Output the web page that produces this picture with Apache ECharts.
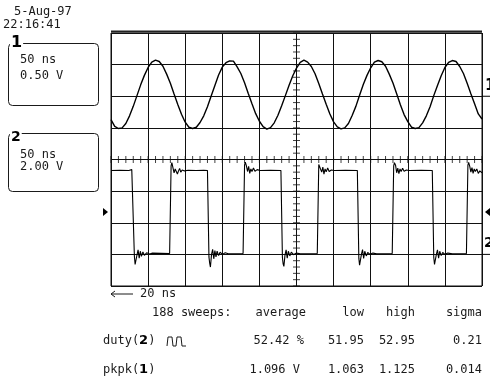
<!DOCTYPE html>
<html>
<head>
<meta charset="utf-8">
<script src="https://cdn.jsdelivr.net/npm/echarts@6/dist/echarts.min.js"></script>
<style>
  html, body { margin: 0; background: #fff; }
  #scope { width: 490px; height: 388px; }
</style>
</head>
<body>
<div id="scope"></div>
<script>
// screen is 10 x 8 divisions, time in ns (50 ns/div), values in divisions
const timeMax = 500;
const divsHalf = 4;

// channel 1 (sine), one sample every 5 ns in divisions
const ch1StepNs = 5;
const ch1Divs = [
  1.26, 1.05, 0.98, 1.00, 1.14, 1.38, 1.68, 2.02, 2.36, 2.66, 2.91, 3.08, 3.14, 3.10, 2.95, 2.70, 2.41, 2.07, 1.74, 1.43,
  1.18, 1.02, 0.98, 1.02, 1.17, 1.38, 1.67, 2.01, 2.34, 2.67, 2.92, 3.06, 3.12, 3.11, 2.93, 2.72, 2.43, 2.09, 1.76, 1.45,
  1.21, 1.04, 0.96, 1.01, 1.16, 1.40, 1.70, 2.02, 2.35, 2.65, 2.89, 3.07, 3.14, 3.08, 2.94, 2.71, 2.40, 2.07, 1.75, 1.44,
  1.19, 1.03, 0.97, 1.00, 1.14, 1.39, 1.68, 2.03, 2.37, 2.66, 2.90, 3.08, 3.13, 3.09, 2.95, 2.70, 2.42, 2.08, 1.73, 1.42,
  1.20, 1.02, 0.98, 1.01, 1.16, 1.38, 1.67, 2.02, 2.34, 2.65, 2.91, 3.07, 3.13, 3.10, 2.94, 2.72, 2.41, 2.08, 1.76, 1.44,
  1.28
];

// channel 2 (pulse train) as [ns, divisions]
const ch2Points = [
  [0, -0.35], [12, -0.34], [24, -0.35], [28, -0.32], [29.5, -0.28], [30.5, -0.38],
  [31.5, -3.05], [32.5, -3.32], [33.5, -3.36], [35, -3.02], [36.5, -2.86], [38, -3.12], [39.5, -2.9], [41, -3.06],
  [43, -2.92], [45, -3.03], [48, -2.95], [52, -2.99], [56, -2.96], [79, -2.97],
  [80, -2.96], [81, -0.2], [82, -0.1], [83.5, -0.16], [85, -0.42], [86.5, -0.3], [88, -0.24], [89.5, -0.46],
  [91, -0.36], [92.5, -0.28], [94, -0.4], [96, -0.33], [99, -0.36], [104, -0.34], [115, -0.35], [125, -0.34], [130, -0.35],
  [131, -0.38], [132, -3.08], [133, -3.28], [134, -3.4], [135.5, -3.0], [137, -2.84], [138.5, -3.14], [140, -2.88],
  [141.5, -3.08], [143, -2.9], [145, -3.04], [147, -2.93], [150, -3.0], [154, -2.95], [158, -2.98], [178, -2.97],
  [179, -2.96], [180, -0.18], [181, -0.08], [182.5, -0.2], [184, -0.38], [185.5, -0.22], [187, -0.44], [188.5, -0.3],
  [190, -0.38], [192, -0.27], [194, -0.37], [197, -0.32], [201, -0.35], [215, -0.34], [229, -0.35],
  [230, -0.37], [231, -3.1], [232, -3.3], [233, -3.38], [234.5, -3.02], [236, -2.86], [237.5, -3.12], [239, -2.9],
  [241, -3.05], [243, -2.93], [246, -3.01], [250, -2.96], [255, -2.98], [278, -2.97],
  [279, -2.96], [280, -0.16], [281, -0.1], [282.5, -0.22], [284, -0.4], [285.5, -0.24], [287, -0.46], [288.5, -0.3],
  [290, -0.39], [292, -0.27], [294, -0.38], [297, -0.33], [301, -0.35], [316, -0.34], [332, -0.35],
  [333, -0.38], [334, -3.12], [335, -3.34], [336, -3.4], [337.5, -3.0], [339, -2.85], [340.5, -3.13], [342, -2.9],
  [344, -3.05], [346, -2.94], [349, -3.0], [353, -2.96], [358, -2.98], [379, -2.97],
  [380, -2.96], [381, -0.2], [382, -0.1], [383.5, -0.18], [385, -0.42], [386.5, -0.27], [388, -0.45], [389.5, -0.3],
  [391, -0.38], [393, -0.28], [395, -0.37], [398, -0.33], [402, -0.35], [418, -0.34], [433, -0.35],
  [434, -0.38], [435, -3.1], [436, -3.32], [437, -3.38], [438.5, -3.0], [440, -2.86], [441.5, -3.12], [443, -2.9],
  [445, -3.04], [447, -2.94], [450, -3.0], [454, -2.96], [460, -2.98], [479, -2.97],
  [480, -2.96], [481, -0.18], [482, -0.09], [483.5, -0.22], [485, -0.4], [486.5, -0.26], [488, -0.44], [489.5, -0.3],
  [491, -0.38], [493, -0.3], [495, -0.44], [497, -0.36], [500, -0.42]
];

// reference markers (divisions)
const ch1Offset = 2.0;
const ch2Offset = -3.0;
const triggerLevel = -1.66;

// header / channel boxes
const stampDate = '5-Aug-97';
const stampTime = '22:16:41';
const chTimebase = ['50 ns', '50 ns'];
const chVoltsDiv = ['0.50 V', '2.00 V'];

// measurement table
const sweepsLabel = '188 sweeps:';
const statHeaders = ['average', 'low', 'high', 'sigma'];
const dutyStats = ['52.42 %', '51.95', '52.95', '0.21'];
const pkpkStats = ['1.096 V', '1.063', '1.125', '0.014'];
const zoomLabel = '20 ns';

const FONT = '12px "DejaVu Sans Mono"';
const INK = '#1a1a1a';

// minor ticks on the centre cross, every 0.2 div
const hTicks = [];
for (let t = 0; t <= timeMax; t += 10) hTicks.push([t, 0]);
const vTicks = [];
for (let k = -20; k <= 20; k++) vTicks.push([250, k / 5]);

const chart = echarts.init(document.getElementById('scope'));

const hiddenAxis = {
  axisLine: { show: false },
  axisTick: { show: false },
  axisLabel: { show: false },
  splitLine: { show: true, lineStyle: { color: '#111', width: 1 } }
};

chart.setOption({
  animation: false,
  backgroundColor: '#fff',
  grid: { left: 111, top: 33, width: 371, height: 253, show: true, borderColor: '#111', borderWidth: 1 },
  xAxis: Object.assign({ type: 'value', min: 0, max: timeMax, interval: 50 }, hiddenAxis),
  yAxis: Object.assign({ type: 'value', min: -divsHalf, max: divsHalf, interval: 1 }, hiddenAxis),
  series: [
    {
      type: 'line',
      data: ch1Divs.map((v, i) => [i * ch1StepNs, v]),
      showSymbol: false,
      silent: true,
      lineStyle: { color: '#000', width: 1.4 }
    },
    {
      type: 'line',
      data: ch2Points,
      showSymbol: false,
      silent: true,
      lineStyle: { color: '#000', width: 1.1 }
    },
    {
      type: 'scatter',
      data: hTicks,
      symbol: 'rect',
      symbolSize: [1, 7],
      silent: true,
      itemStyle: { color: '#111' }
    },
    {
      type: 'scatter',
      data: vTicks,
      symbol: 'rect',
      symbolSize: [7, 1],
      silent: true,
      itemStyle: { color: '#111' }
    }
  ]
});

function px(t, v) {
  return chart.convertToPixel({ gridIndex: 0 }, [t, v]);
}

function txt(x, y, text, extra) {
  return {
    type: 'text',
    x: x,
    y: y,
    silent: true,
    style: Object.assign({ text: text, font: FONT, fill: INK, align: 'left', verticalAlign: 'middle' }, extra || {})
  };
}

const plotLeft = px(0, 0)[0];
const plotRight = px(timeMax, 0)[0];
const plotTop = px(0, divsHalf)[1];
const y1 = px(0, ch1Offset)[1];
const y2 = px(0, ch2Offset)[1];
const yTrig = px(0, triggerLevel)[1];

const g = [];
// heavier top frame
g.push({ type: 'line', silent: true, shape: { x1: plotLeft, y1: plotTop - 1.5, x2: plotRight, y2: plotTop - 1.5 }, style: { stroke: '#222', lineWidth: 2 } });

// time stamp
g.push(txt(14, 12, stampDate));
g.push(txt(3, 25, stampTime));

// channel boxes
g.push({ type: 'rect', silent: true, shape: { x: 8.5, y: 43.5, width: 90, height: 62, r: 4 }, style: { fill: 'none', stroke: INK, lineWidth: 1 } });
g.push({ type: 'rect', silent: true, shape: { x: 8.5, y: 133.5, width: 90, height: 58, r: 4 }, style: { fill: 'none', stroke: INK, lineWidth: 1 } });
g.push(txt(10, 43, '1', { font: 'bold 16px "DejaVu Sans"', fill: '#000', backgroundColor: '#fff', padding: [0, 1] }));
g.push(txt(10, 137, '2', { font: 'bold 14px "DejaVu Sans"', fill: '#000', backgroundColor: '#fff', padding: [0, 1] }));
g.push(txt(20, 60, chTimebase[0]));
g.push(txt(20, 76, chVoltsDiv[0]));
g.push(txt(20, 155, chTimebase[1]));
g.push(txt(20, 167, chVoltsDiv[1]));

// channel reference markers on the right
g.push({ type: 'line', silent: true, shape: { x1: plotRight, y1: y1, x2: 490, y2: y1 }, style: { stroke: '#000', lineWidth: 1 } });
g.push(txt(485, y1 - 10, '1', { font: 'bold 15px "DejaVu Sans"', fill: '#000' }));
g.push({ type: 'line', silent: true, shape: { x1: plotRight, y1: y2, x2: 490, y2: y2 }, style: { stroke: '#000', lineWidth: 1 } });
g.push(txt(484, y2 - 11, '2', { font: 'bold 14px "DejaVu Sans"', fill: '#000' }));

// trigger level arrows
g.push({ type: 'polygon', silent: true, shape: { points: [[103, yTrig - 4], [108, yTrig], [103, yTrig + 4]] }, style: { fill: '#000' } });
g.push({ type: 'polygon', silent: true, shape: { points: [[490, yTrig - 4], [485, yTrig], [490, yTrig + 4]] }, style: { fill: '#000' } });

// zoom arrow
g.push({ type: 'line', silent: true, shape: { x1: 111, y1: 294, x2: 133, y2: 294 }, style: { stroke: INK, lineWidth: 1 } });
g.push({ type: 'polyline', silent: true, shape: { points: [[115, 291], [111, 294], [115, 297]] }, style: { stroke: INK, lineWidth: 1, fill: 'none' } });
g.push(txt(140, 294, zoomLabel));

// measurement table
const colRight = [306, 364, 415, 482];
g.push(txt(152, 313, sweepsLabel));
statHeaders.forEach((h, i) => g.push(txt(colRight[i], 313, h, { align: 'right' })));

g.push(txt(103, 341, '{a|duty(}{b|2}{a|)}', {
  rich: { a: { font: FONT, fill: INK }, b: { font: 'bold 13px "DejaVu Sans"', fill: '#000' } }
}));
g.push({ type: 'polyline', silent: true, shape: { points: [[167, 346], [168, 337], [172, 337], [173, 346], [176, 346], [177, 337], [181, 337], [182, 346], [186, 346]] }, style: { stroke: INK, lineWidth: 1, fill: 'none' } });
dutyStats.forEach((s, i) => g.push(txt(colRight[i] - (i === 0 ? 2 : 0), 341, s, { align: 'right' })));

g.push(txt(103, 370, '{a|pkpk(}{b|1}{a|)}', {
  rich: { a: { font: FONT, fill: INK }, b: { font: 'bold 13px "DejaVu Sans"', fill: '#000' } }
}));
pkpkStats.forEach((s, i) => g.push(txt(colRight[i] - (i === 0 ? 6 : 0), 370, s, { align: 'right' })));

chart.setOption({ graphic: { elements: g } });
</script>
</body>
</html>
